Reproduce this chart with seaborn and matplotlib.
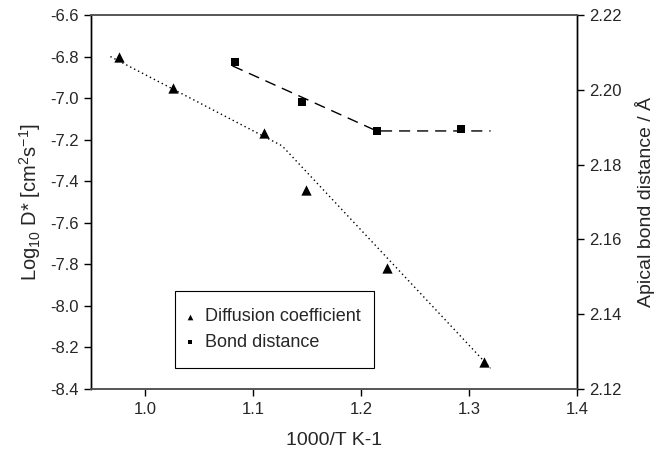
import matplotlib
matplotlib.use("Agg")
import matplotlib.pyplot as plt
from matplotlib.patches import Rectangle
import seaborn as sns
import pandas as pd

# Diffusion coefficient data (left axis)
diff_x = [0.976, 1.026, 1.110, 1.149, 1.224, 1.314]
diff_y = [-6.80, -6.95, -7.17, -7.44, -7.82, -8.27]
# Dotted fit line for diffusion
diff_fit_x = [0.968, 1.127, 1.320]
diff_fit_y = [-6.80, -7.23, -8.30]

# Bond distance data (right axis)
bond_x = [1.083, 1.145, 1.2145, 1.293]
bond_y = [2.2074, 2.1968, 2.189, 2.1895]
# Dashed fit line for bond distance
bond_fit_x = [1.081, 1.2145, 1.320]
bond_fit_y = [2.2064, 2.189, 2.189]

x_ticks = [1.0, 1.1, 1.2, 1.3, 1.4]
y_left_ticks = [-6.6, -6.8, -7.0, -7.2, -7.4, -7.6, -7.8, -8.0, -8.2, -8.4]
y_right_ticks = [2.12, 2.14, 2.16, 2.18, 2.20, 2.22]

sns.set_theme(style="white")
plt.rcParams['font.family'] = ['Liberation Sans', 'DejaVu Sans']
plt.rcParams['mathtext.fontset'] = 'custom'
plt.rcParams['mathtext.rm'] = 'Liberation Sans'
plt.rcParams['mathtext.it'] = 'Liberation Sans'

fig = plt.figure(figsize=(6.66, 4.59), dpi=100)
ax = fig.add_axes([0.1366, 0.1525, 0.7298, 0.8148])
ax2 = ax.twinx()

df_diff = pd.DataFrame({"x": diff_x, "y": diff_y})
df_dfit = pd.DataFrame({"x": diff_fit_x, "y": diff_fit_y})
df_bond = pd.DataFrame({"x": bond_x, "y": bond_y})
df_bfit = pd.DataFrame({"x": bond_fit_x, "y": bond_fit_y})

sns.lineplot(data=df_dfit, x="x", y="y", ax=ax, color="black", lw=1.0,
             linestyle=(0, (1, 2.2)), sort=False, legend=False)
sns.scatterplot(data=df_diff, x="x", y="y", ax=ax, marker="^", color="black",
                s=55, edgecolor="black", linewidth=0, label="Diffusion coefficient", legend=False)

sns.lineplot(data=df_bfit, x="x", y="y", ax=ax2, color="black", lw=1.0,
             linestyle=(0, (8, 5)), sort=False, legend=False)
sns.scatterplot(data=df_bond, x="x", y="y", ax=ax2, marker="s", color="black",
                s=35, edgecolor="black", linewidth=0, label="Bond distance", legend=False)

ax.set_xlim(0.95, 1.4)
ax.set_ylim(-8.4, -6.6)
ax2.set_ylim(2.12, 2.22)
ax.set_xticks(x_ticks)
ax.set_xticklabels([f"{v:.1f}" for v in x_ticks])
ax.set_yticks(y_left_ticks)
ax.set_yticklabels([f"{v:.1f}" for v in y_left_ticks])
ax2.set_yticks(y_right_ticks)
ax2.set_yticklabels([f"{v:.2f}" for v in y_right_ticks])

ax.set_xlabel("1000/T K-1", fontsize=14, labelpad=11)
ax.set_ylabel(r"Log$_{10}$ D* [cm$^{2}$s$^{-1}$]", fontsize=14.5, labelpad=5)
ax2.set_ylabel("Apical bond distance / Å", fontsize=14, labelpad=9)

for a in (ax, ax2):
    a.tick_params(axis="both", which="major", labelsize=12, length=5, width=1,
                  direction="out", color="black", pad=4)
    for side in ("top", "bottom"):
        a.spines[side].set_color("#555555")
        a.spines[side].set_linewidth(1.2)
    for side in ("left", "right"):
        a.spines[side].set_color("black")
        a.spines[side].set_linewidth(1.0)
ax.tick_params(axis="y", left=True, right=False)
ax.tick_params(axis="x", bottom=True)
ax2.tick_params(axis="y", right=True)

# legend box
box_x, box_y, box_w, box_h = 0.173, 0.055, 0.409, 0.208
ax2.add_patch(Rectangle((box_x, box_y), box_w, box_h, transform=ax2.transAxes,
                        fill=True, facecolor="white", edgecolor="black", lw=0.8, zorder=5))
h1, l1 = ax.get_legend_handles_labels()
h2, l2 = ax2.get_legend_handles_labels()
leg = ax2.legend(h1 + h2, l1 + l2, loc="center left",
                 bbox_to_anchor=(box_x, box_y + box_h / 2), borderaxespad=0,
                 fontsize=13, frameon=False, markerscale=0.55,
                 handletextpad=0.45, borderpad=0.4, labelspacing=0.45, handlelength=0.8)
leg.set_zorder(6)

fig.savefig("out.png", dpi=100)
